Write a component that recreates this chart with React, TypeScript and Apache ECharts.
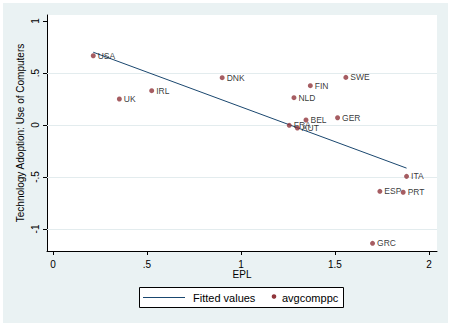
import React, { useEffect, useRef } from "react";
import * as echarts from "echarts";

const countries = ["USA", "UK", "IRL", "DNK", "SWE", "FIN", "NLD", "BEL", "GER", "FRA", "AUT", "ITA", "ESP", "PRT", "GRC"];
const epl = [0.214, 0.353, 0.525, 0.9, 1.558, 1.369, 1.282, 1.346, 1.514, 1.257, 1.3, 1.881, 1.739, 1.863, 1.7];
const avgcomppc = [0.666, 0.25, 0.33, 0.455, 0.458, 0.378, 0.263, 0.048, 0.07, -0.003, -0.029, -0.494, -0.638, -0.647, -1.138];
const fittedX = [0.214, 1.881];
const fittedY = [0.7, -0.415];
const xTicks = [0, 0.5, 1, 1.5, 2];
const yTicks = [-1, -0.5, 0, 0.5, 1];
const yGrid = [-1, -0.5, 0, 0.5];

const FONT = "Liberation Sans, Arial, sans-serif";
const fmt = (v: number) => {
  const s = String(v);
  if (s.startsWith("0.")) return s.slice(1);
  if (s.startsWith("-0.")) return "-" + s.slice(2);
  return s;
};

export default function App() {
  const ref = useRef<HTMLDivElement>(null);
  useEffect(() => {
    if (!ref.current) return;
    const chart = echarts.init(ref.current, null, { renderer: "svg" });
    const scatterData = countries.map((c, i) => ({ name: c, value: [epl[i], avgcomppc[i]] }));
    const lineData = fittedX.map((x, i) => [x, fittedY[i]]);
    chart.setOption({
      animation: false,
      backgroundColor: "#EAF2F3",
      grid: {
        left: 44,
        top: 12,
        width: 390,
        height: 236,
        show: true,
        backgroundColor: "#ffffff",
        borderWidth: 0,
      },
      xAxis: {
        type: "value",
        min: -0.032,
        max: 2.043,
        name: "EPL",
        nameLocation: "middle",
        nameGap: 18,
        nameMoveOverlap: false,
        nameTextStyle: { fontFamily: FONT, fontSize: 10, color: "#000" },
        axisLine: { show: true, onZero: false, lineStyle: { color: "#000", width: 1 } },
        axisTick: { show: true, length: 4, customValues: xTicks, lineStyle: { color: "#000" } },
        axisLabel: {
          customValues: xTicks,
          formatter: (v: number) => fmt(v),
          fontFamily: FONT,
          fontSize: 10,
          color: "#000",
          margin: 8,
        },
        splitLine: { show: false },
      },
      yAxis: {
        type: "value",
        min: -1.212,
        max: 1.058,
        name: "Technology Adoption: Use of Computers",
        nameLocation: "middle",
        nameGap: 22,
        nameMoveOverlap: false,
        nameTextStyle: { fontFamily: FONT, fontSize: 10, color: "#000" },
        axisLine: { show: true, onZero: false, lineStyle: { color: "#000", width: 1 } },
        axisTick: { show: true, length: 4, customValues: yTicks, lineStyle: { color: "#000" } },
        axisLabel: {
          customValues: yTicks,
          formatter: (v: number) => fmt(v),
          rotate: 90,
          fontFamily: FONT,
          fontSize: 10,
          color: "#000",
          margin: 7,
        },
        splitLine: { show: false },
      },
      graphic: [
        {
          type: "group",
          children: [
            { type: "rect", shape: { x: 136.5, y: 284.5, width: 204, height: 20 }, style: { fill: "#fff", stroke: "#000", lineWidth: 1 } },
            { type: "line", shape: { x1: 140, y1: 294.5, x2: 182, y2: 294.5 }, style: { stroke: "#1A476F", lineWidth: 1 } },
            { type: "text", x: 190, y: 295, style: { text: "Fitted values", fontFamily: FONT, fontSize: 11, fill: "#000", verticalAlign: "middle" } },
            { type: "circle", shape: { cx: 271, cy: 293.5, r: 2.3 }, style: { fill: "#90353B" } },
            { type: "text", x: 279, y: 295, style: { text: "avgcomppc", fontFamily: FONT, fontSize: 11, fill: "#000", verticalAlign: "middle" } },
          ],
        },
      ],
      series: [
        {
          name: "Fitted values",
          type: "line",
          data: lineData,
          symbol: "none",
          lineStyle: { color: "#1A476F", width: 1 },
          z: 2,
          markLine: {
            silent: true,
            symbol: "none",
            label: { show: false },
            lineStyle: { color: "#E3ECEE", width: 1, type: "solid" },
            data: yGrid.map((v) => ({ yAxis: v })),
            z: 1,
          },
        },
        {
          name: "avgcomppc",
          type: "scatter",
          data: scatterData,
          symbol: "circle",
          symbolSize: 5,
          itemStyle: { color: "#90353B" },
          z: 3,
          label: {
            show: true,
            position: "right",
            distance: 2,
            offset: [0, 2],
            formatter: (p: any) => p.name,
            fontFamily: FONT,
            fontSize: 8.5,
            color: "#000",
            textBorderWidth: 0,
          },
          labelLayout: { hideOverlap: false },
        },
      ],
    });
    return () => chart.dispose();
  }, []);
  return (
    <div style={{ position: "fixed", left: 0, top: 0, width: 454, height: 328, background: "#fff" }}>
      <div ref={ref} style={{ position: "absolute", left: 3, top: 3, width: 445, height: 320 }} />
    </div>
  );
}
